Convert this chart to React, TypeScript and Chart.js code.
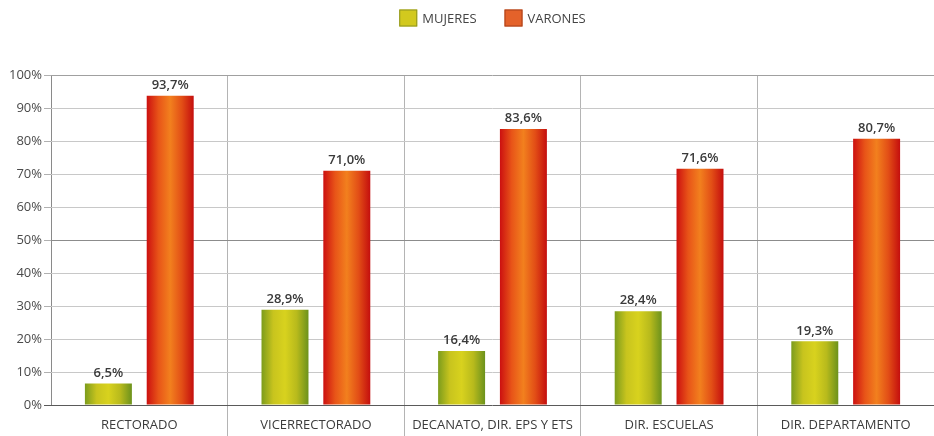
import React, { useEffect, useRef } from "react";
import { Chart, registerables } from "chart.js";

Chart.register(...registerables);

const categories = [
  "RECTORADO",
  "VICERRECTORADO",
  "DECANATO, DIR. EPS Y ETS",
  "DIR. ESCUELAS",
  "DIR. DEPARTAMENTO",
];
const mujeres = [6.5, 28.9, 16.4, 28.4, 19.3];
const varones = [93.7, 71.0, 83.6, 71.6, 80.7];
const seriesNames = ["MUJERES", "VARONES"];
const yTicks = [0, 10, 20, 30, 40, 50, 60, 70, 80, 90, 100];

const CAT_PCT = 0.7;
const BAR_PCT = 0.76;
const FONT = '"Open Sans", "Noto Sans", sans-serif';

const gradStops = [
  ["#7c9c1c", "#c8c41e", "#d8d21e", "#b8ba1c", "#6c921c"],
  ["#cc1010", "#e85418", "#f2801e", "#e24e16", "#c40e0e"],
];
const legendColors = [
  { fill: "#d2c91e", stroke: "#8e9420" },
  { fill: "#e4622a", stroke: "#a8401a" },
];

const fmt = (v: number) => v.toFixed(1).replace(".", ",") + "%";

function barFill(ctx: any) {
  const chart = ctx.chart;
  const ds = ctx.datasetIndex;
  const stops = gradStops[ds];
  const xs = chart.scales && chart.scales.x;
  if (!xs || ctx.dataIndex === undefined) return stops[2];
  const n = chart.data.labels.length;
  const catW = (xs.right - xs.left) / n;
  const slot = (catW * CAT_PCT) / 2;
  const w = slot * BAR_PCT;
  const c = xs.getPixelForValue(ctx.dataIndex) + (ds - 0.5) * slot;
  if (!isFinite(c)) return stops[2];
  const g = chart.ctx.createLinearGradient(c - w / 2, 0, c + w / 2, 0);
  stops.forEach((s: string, i: number) => g.addColorStop(i / (stops.length - 1), s));
  return g;
}

const valueLabels = {
  id: "valueLabels",
  afterDatasetsDraw(chart: any) {
    const ctx = chart.ctx;
    ctx.save();
    ctx.font = `600 13px ${FONT}`;
    ctx.fillStyle = "#3a3a3a";
    ctx.textAlign = "center";
    ctx.textBaseline = "bottom";
    chart.data.datasets.forEach((d: any, di: number) => {
      const meta = chart.getDatasetMeta(di);
      meta.data.forEach((el: any, i: number) => {
        ctx.fillText(fmt(d.data[i]), el.x, el.y - 4);
      });
    });
    ctx.restore();
  },
};

const topLegend = {
  id: "topLegend",
  afterDraw(chart: any) {
    const ctx = chart.ctx;
    const a = chart.chartArea;
    ctx.save();
    ctx.font = `13px ${FONT}`;
    ctx.textBaseline = "middle";
    ctx.textAlign = "left";
    const bw = 18, bh = 17, gapT = 5, gapI = 28;
    const items = chart.data.datasets.map((d: any, i: number) => ({
      label: d.label,
      tw: ctx.measureText(d.label).width,
      col: legendColors[i],
    }));
    const total =
      items.reduce((s: number, it: any) => s + bw + gapT + it.tw, 0) +
      gapI * (items.length - 1);
    let x = (a.left + a.right) / 2 - total / 2;
    const cy = 18;
    items.forEach((it: any) => {
      ctx.fillStyle = it.col.fill;
      ctx.fillRect(x, cy - bh / 2, bw, bh);
      ctx.strokeStyle = it.col.stroke;
      ctx.lineWidth = 1;
      ctx.strokeRect(x + 0.5, cy - bh / 2 + 0.5, bw - 1, bh - 1);
      ctx.fillStyle = "#444";
      ctx.fillText(it.label, x + bw + gapT, cy + 1);
      x += bw + gapT + it.tw + gapI;
    });
    ctx.restore();
  },
};

const whiteBg = {
  id: "whiteBg",
  beforeDraw(chart: any) {
    const ctx = chart.ctx;
    ctx.save();
    ctx.fillStyle = "#ffffff";
    ctx.fillRect(0, 0, chart.width, chart.height);
    ctx.restore();
  },
};

export default function App() {
  const ref = useRef<HTMLCanvasElement | null>(null);
  useEffect(() => {
    if (!ref.current) return;
    const chart = new Chart(ref.current, {
      type: "bar",
      data: {
        labels: categories,
        datasets: [
          { label: seriesNames[0], data: mujeres, backgroundColor: barFill as any, borderWidth: 0 },
          { label: seriesNames[1], data: varones, backgroundColor: barFill as any, borderWidth: 0 },
        ],
      },
      options: {
        responsive: false,
        animation: false,
        categoryPercentage: CAT_PCT,
        barPercentage: BAR_PCT,
        layout: { padding: { top: 75, right: 0, left: 0, bottom: 0 } },
        plugins: {
          legend: { display: false },
          tooltip: { enabled: false },
        },
        scales: {
          x: {
            grid: {
              offset: true,
              color: (c: any) => (c.index === 0 ? "#8a8a8a" : "#b4b4b4"),
              tickColor: (c: any) => (c.index === 0 ? "rgba(0,0,0,0)" : "#b4b4b4"),
              tickLength: 31,
              lineWidth: 1,
            },
            border: { display: false },
            ticks: {
              color: "#3c3c3c",
              font: { family: FONT, size: 13 },
              padding: -19,
              maxRotation: 0,
              autoSkip: false,
            },
            afterFit: (s: any) => {
              s.height = 31;
            },
          },
          y: {
            min: 0,
            max: 100,
            afterBuildTicks: (s: any) => {
              s.ticks = yTicks.map((v) => ({ value: v }));
            },
            grid: {
              color: (c: any) => {
                const v = c.tick && c.tick.value;
                if (v === 0) return "#5a5a5a";
                if (v === 50) return "#8c8c8c";
                if (v === 100) return "#a0a0a0";
                return "#c8c8c8";
              },
              tickColor: (c: any) => {
                const v = c.tick && c.tick.value;
                return v === 0 ? "#5a5a5a" : "#b0b0b0";
              },
              tickLength: 7,
              lineWidth: 1,
            },
            border: { display: false },
            ticks: {
              color: "#4a4a4a",
              font: { family: FONT, size: 13 },
              padding: 2,
              callback: (v: any) => v + "%",
            },
            afterFit: (s: any) => {
              s.width = 51;
            },
          },
        },
      },
      plugins: [whiteBg, valueLabels, topLegend],
    });
    return () => chart.destroy();
  }, []);
  return (
    <div style={{ position: "fixed", left: 0, top: 0, width: 934, height: 436, background: "#fff" }}>
      <canvas ref={ref} width={934} height={436} style={{ display: "block" }} />
    </div>
  );
}
